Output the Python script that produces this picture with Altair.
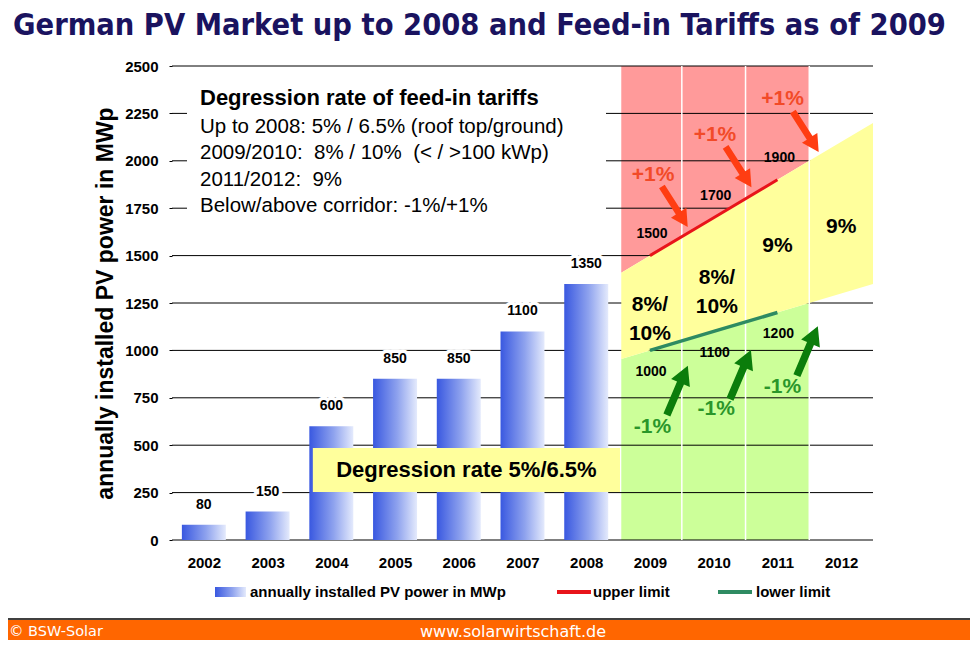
import altair as alt
import pandas as pd

# ---------------- data ----------------
years = [2002, 2003, 2004, 2005, 2006, 2007, 2008]
installed = [80, 150, 600, 850, 850, 1100, 1350]
axis_years = [2002, 2003, 2004, 2005, 2006, 2007, 2008, 2009, 2010, 2011, 2012]
y_ticks = [0, 250, 500, 750, 1000, 1250, 1500, 1750, 2000, 2250, 2500]

limit_years = [2009, 2010, 2011]
upper_limit = [1500, 1700, 1900]
lower_limit = [1000, 1100, 1200]

corridor_x = [2008.55, 2011.5, 2012.5]
corridor_low = [955, 1250, 1350]
corridor_high = [1410, 2000, 2200]
zone_top = [2500, 2500, 2500]
zone_bottom = [0, 0, 0]

column_edges = [2009.5, 2010.5, 2011.5]

rate_x = [2009.0, 2010.05, 2011.0, 2012.0]
rate_y = [1242, 1382, 1551, 1651]
rate_text = ["8%/\n10%", "8%/\n10%", "9%", "9%"]

plus_x = [2009.05, 2010.02, 2011.08]
plus_y = [1925, 2136, 2326]
minus_x = [2009.04, 2010.04, 2011.08]
minus_y = [598, 689, 805]

red_arrow_x = [2009.39, 2010.39, 2011.445]
red_arrow_y = [1758, 1967, 2153]
green_arrow_x = [2009.43, 2010.42, 2011.47]
green_arrow_y = [789, 872, 997]

note_title = "Degression rate of feed-in tariffs"
note_lines = [
    "Up to 2008: 5% / 6.5% (roof top/ground)",
    "2009/2010:\u00a0 8% / 10%\u00a0 (< / >100 kWp)",
    "2011/2012:\u00a0 9%",
    "Below/above corridor: -1%/+1%",
]

old_box_x = [2003.71, 2008.53]
old_box_y = [253, 485]
old_box_label = "Degression rate 5%/6.5%"

title_text = "German PV Market up to 2008 and Feed-in Tariffs as of 2009"
y_title = "annually installed PV power in MWp"
legend_labels = ["annually installed PV power in MWp", "upper limit", "lower limit"]
footer_left = "\u00a9 BSW-Solar"
footer_mid = "www.solarwirtschaft.de"

# ---------------- style ----------------
W, H = 701, 474
FONT = "Liberation Sans"
RED_ZONE = "#ff9a9a"
YELLOW = "#ffff9c"
GREEN_ZONE = "#ccff99"
ARROW_RED = "#ff3d12"
TEXT_RED = "#f24a28"
ARROW_GREEN = "#0b7d0b"
TEXT_GREEN = "#2a962a"
LIMIT_RED = "#e8141a"
LIMIT_GREEN = "#2e8b62"
ORANGE = "#ff6600"
ARROW_PATH = "M0,-1L0.38,-0.3L0.14,-0.3L0.14,1L-0.14,1L-0.14,-0.3L-0.38,-0.3Z"

bar_gradient = alt.LinearGradient(
    gradient="linear", x1=0, y1=0.5, x2=1, y2=0.5,
    stops=[alt.GradientStop(offset=0, color="#3958e0"),
           alt.GradientStop(offset=0.55, color="#8ea2ee"),
           alt.GradientStop(offset=1, color="#e4eafc")])

xs = alt.Scale(domain=[2001.5, 2012.5], nice=False, zero=False, padding=0)
ys = alt.Scale(domain=[0, 2500], nice=False, zero=False, padding=0)

x_axis = alt.Axis(values=axis_years, format="d", grid=False, domain=False, ticks=False,
                  labelFont=FONT, labelFontSize=15, labelFontWeight="bold", labelColor="black",
                  labelPadding=15, title=None)
y_axis = alt.Axis(values=y_ticks, format="d", grid=False, domain=False, ticks=True, tickSize=3,
                  tickColor="black", labelFont=FONT, labelFontSize=15, labelFontWeight="bold",
                  labelColor="black", labelPadding=11, title=y_title, titleFont=FONT,
                  titleFontSize=23, titleFontWeight="bold", titleColor="black", titlePadding=7)


def X(f):
    return alt.X(f, type="quantitative", scale=xs, axis=x_axis)


def Y(f):
    return alt.Y(f, type="quantitative", scale=ys, axis=y_axis)


one = pd.DataFrame({"a": [0]})

bars_df = pd.DataFrame({"year": years, "value": installed})
bars_df["x0"] = bars_df["year"] - 0.345
bars_df["x1"] = bars_df["year"] + 0.345
bars_df["base"] = 0
limits_df = pd.DataFrame({"year": limit_years, "upper": upper_limit, "lower": lower_limit})
corr_df = pd.DataFrame({"x": corridor_x, "low": corridor_low, "high": corridor_high,
                        "top": zone_top, "bottom": zone_bottom})
zone_df = corr_df.iloc[:2]
ticks_df = pd.DataFrame({"tick": y_ticks})
edges_df = pd.DataFrame({"edge": column_edges})
rates_df = pd.DataFrame({"x": rate_x, "y": rate_y, "t": rate_text})
plus_df = pd.DataFrame({"x": plus_x, "y": plus_y, "t": ["+1%"] * 3})
minus_df = pd.DataFrame({"x": minus_x, "y": minus_y, "t": ["-1%"] * 3})
red_arrows_df = pd.DataFrame({"x": red_arrow_x, "y": red_arrow_y, "ang": [147.4] * 3})
green_arrows_df = pd.DataFrame({"x": green_arrow_x, "y": green_arrow_y, "ang": [23.0] * 3})
old_box_df = pd.DataFrame({"x0": [old_box_x[0]], "x1": [old_box_x[1]], "y0": [old_box_y[0]],
                           "y1": [old_box_y[1]], "xm": [sum(old_box_x) / 2],
                           "ym": [sum(old_box_y) / 2], "t": [old_box_label]})

layers = []

# zones
layers.append(alt.Chart(zone_df).mark_area(color=RED_ZONE, opacity=1).encode(
    x=X("x"), y=Y("high"), y2="top"))
layers.append(alt.Chart(zone_df).mark_area(color=GREEN_ZONE, opacity=1).encode(
    x=X("x"), y=Y("bottom"), y2="low"))

# gridlines
layers.append(alt.Chart(ticks_df).mark_rule(color="black", strokeWidth=1).encode(
    y=Y("tick"), x=alt.value(0), x2=alt.value(W)))

# white note box
layers.append(alt.Chart(one).mark_rect(color="white").encode(
    x=alt.value(15), x2=alt.value(434), y=alt.value(13), y2=alt.value(160)))

# corridor
layers.append(alt.Chart(corr_df).mark_area(color=YELLOW, opacity=1).encode(
    x=X("x"), y=Y("low"), y2="high"))

# white column separators
layers.append(alt.Chart(edges_df).mark_rule(color="white", strokeWidth=1.5).encode(
    x=X("edge"), y=alt.value(0), y2=alt.value(H)))

# bars
layers.append(alt.Chart(bars_df).mark_bar(color=bar_gradient).encode(
    x=X("x0"), x2="x1", y=Y("value"), y2="base"))

# bar labels with halo
bar_lbl = alt.Chart(bars_df)
layers.append(bar_lbl.mark_text(font=FONT, fontSize=14, fontWeight="bold", dy=-20,
                                stroke="white", strokeWidth=7, strokeJoin="round",
                                color="white").encode(
    x=X("year"), y=Y("value"), text=alt.Text("value:Q", format="d")))
layers.append(bar_lbl.mark_text(font=FONT, fontSize=14, fontWeight="bold", dy=-20,
                                color="black").encode(
    x=X("year"), y=Y("value"), text=alt.Text("value:Q", format="d")))

# old degression box
layers.append(alt.Chart(old_box_df).mark_rect(color=YELLOW).encode(
    x=X("x0"), x2="x1", y=Y("y0"), y2="y1"))
layers.append(alt.Chart(old_box_df).mark_text(font=FONT, fontSize=22, fontWeight="bold",
                                              color="black").encode(
    x=X("xm"), y=Y("ym"), text="t:N"))

# limit lines
layers.append(alt.Chart(limits_df).mark_line(color=LIMIT_RED, strokeWidth=3).encode(
    x=X("year"), y=Y("upper")))
layers.append(alt.Chart(limits_df).mark_line(color=LIMIT_GREEN, strokeWidth=3.5).encode(
    x=X("year"), y=Y("lower")))

# limit labels
layers.append(alt.Chart(limits_df).mark_text(font=FONT, fontSize=14, fontWeight="bold",
                                             color="black", dy=-22, dx=2).encode(
    x=X("year"), y=Y("upper"), text=alt.Text("upper:Q", format="d")))
layers.append(alt.Chart(limits_df).mark_text(font=FONT, fontSize=14, fontWeight="bold",
                                             color="black", dy=22, dx=1).encode(
    x=X("year"), y=Y("lower"), text=alt.Text("lower:Q", format="d")))

# rate labels
layers.append(alt.Chart(rates_df).mark_text(font=FONT, fontSize=21, fontWeight="bold",
                                            color="black", lineBreak="\n",
                                            lineHeight=29).encode(
    x=X("x"), y=Y("y"), text="t:N"))

# +1% / -1%
layers.append(alt.Chart(plus_df).mark_text(font=FONT, fontSize=21, fontWeight="bold",
                                           color=TEXT_RED).encode(
    x=X("x"), y=Y("y"), text="t:N"))
layers.append(alt.Chart(minus_df).mark_text(font=FONT, fontSize=21, fontWeight="bold",
                                            color=TEXT_GREEN).encode(
    x=X("x"), y=Y("y"), text="t:N"))

# arrows
layers.append(alt.Chart(red_arrows_df).mark_point(shape=ARROW_PATH, filled=True, opacity=1,
                                                  color=ARROW_RED, size=2300).encode(
    x=X("x"), y=Y("y"), angle=alt.Angle("ang:Q", scale=None)))
layers.append(alt.Chart(green_arrows_df).mark_point(shape=ARROW_PATH, filled=True, opacity=1,
                                                    color=ARROW_GREEN, size=2870).encode(
    x=X("x"), y=Y("y"), angle=alt.Angle("ang:Q", scale=None)))

# note text
layers.append(alt.Chart(one).mark_text(font=FONT, fontSize=22, fontWeight="bold", align="left",
                                       baseline="middle", color="black", text=note_title).encode(
    x=alt.value(28), y=alt.value(32)))
layers.append(alt.Chart(one).mark_text(font=FONT, fontSize=20.5, align="left",
                                       baseline="alphabetic", color="black",
                                       lineBreak="\n", lineHeight=26.3,
                                       text="\n".join(note_lines)).encode(
    x=alt.value(28), y=alt.value(67)))

# legend
layers.append(alt.Chart(one).mark_rect(color=bar_gradient).encode(
    x=alt.value(43), x2=alt.value(74), y=alt.value(521), y2=alt.value(531)))
layers.append(alt.Chart(one).mark_rule(color=LIMIT_RED, strokeWidth=4).encode(
    x=alt.value(385), x2=alt.value(419), y=alt.value(526)))
layers.append(alt.Chart(one).mark_rule(color=LIMIT_GREEN, strokeWidth=4).encode(
    x=alt.value(546), x2=alt.value(580), y=alt.value(526)))
for lx, lab in zip([78, 421, 584], legend_labels):
    layers.append(alt.Chart(one).mark_text(font=FONT, fontSize=15, fontWeight="bold",
                                           align="left", baseline="middle", color="black",
                                           text=lab).encode(
        x=alt.value(lx), y=alt.value(526)))

# footer
layers.append(alt.Chart(one).mark_rule(color="black", strokeWidth=1.5).encode(
    x=alt.value(-164), x2=alt.value(798), y=alt.value(553)))
layers.append(alt.Chart(one).mark_rect(color=ORANGE).encode(
    x=alt.value(-164), x2=alt.value(798), y=alt.value(554), y2=alt.value(574)))
layers.append(alt.Chart(one).mark_text(font="DejaVu Sans", fontSize=14.5, align="left",
                                       baseline="middle", color="white",
                                       text=footer_left).encode(
    x=alt.value(-163), y=alt.value(566)))
layers.append(alt.Chart(one).mark_text(font="DejaVu Sans", fontSize=16, align="center",
                                       baseline="middle", color="white",
                                       text=footer_mid).encode(
    x=alt.value(341), y=alt.value(566)))

# title
layers.append(alt.Chart(one).mark_text(font="DejaVu Sans Condensed", fontSize=30.5,
                                       fontWeight="bold", align="left", baseline="middle",
                                       color="#1a135f", text=title_text).encode(
    x=alt.value(-159), y=alt.value(-40)))

chart = alt.layer(*layers).properties(
    width=W, height=H,
    padding={"left": 164, "top": 58, "right": 97, "bottom": 100},
    autosize=alt.AutoSizeParams(type="none"),
).configure_view(stroke=None)

chart.save("out.html", embed_options={"renderer": "svg", "actions": False})
